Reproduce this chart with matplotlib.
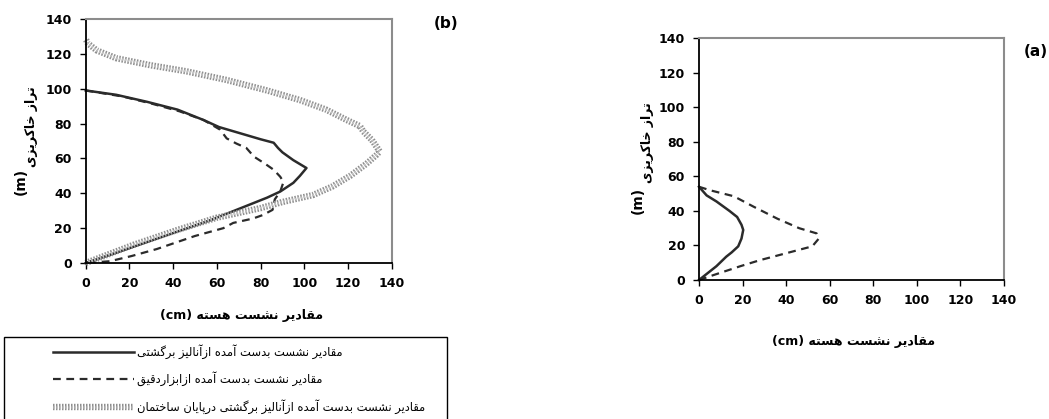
import matplotlib
matplotlib.use('Agg')
import matplotlib.pyplot as plt
import matplotlib.patheffects as pe
from matplotlib.patches import Rectangle

# داده‌ها (b)
b_solid_x = [0, 14, 28, 42, 54, 61, 70.5, 80, 86, 88, 90, 95, 101, 98, 95, 89, 83, 77, 68, 58, 43, 28, 13, 0]
b_solid_y = [99, 96.5, 92.5, 88, 82, 78, 74.5, 71, 69, 66, 63.5, 59, 54.5, 50, 46, 41, 37.5, 34.5, 30, 25, 18.5, 12, 5.5, 0]
b_dash_x = [0, 17, 30, 43, 54, 61.5, 64.5, 69, 73.5, 77, 82, 86, 89, 90.5, 89, 86.5, 85.5, 81, 76.5, 67.5, 63, 50, 32.5, 21, 11, 0]
b_dash_y = [99, 95.5, 91.5, 87, 82, 76.5, 71.5, 68.5, 66, 61, 57, 53.5, 49.5, 46.5, 41, 36.5, 30.5, 27.5, 25.5, 23, 20, 15.5, 8, 4, 1, 0]
b_grey_x = [0, 22, 42, 60, 80, 90, 104, 113, 121, 128.5, 133, 134.5, 131, 127, 125.5, 119.5, 110, 98, 83, 64.5, 46, 29.5, 14, 5, 1, 0]
b_grey_y = [0, 10.5, 19, 26, 31.5, 35, 39, 44, 50, 57, 62, 64, 70.5, 75.5, 78.5, 82, 88, 93.5, 99, 105, 110, 113.5, 117.5, 122, 126, 128.5]

# داده‌ها (a)
a_solid_x = [0, 3.5, 8, 14, 17.5, 19.5, 20.3, 19.5, 18, 15, 12.5, 8, 4, 0]
a_solid_y = [54, 49, 45.5, 40, 36.5, 32, 29, 24, 19.5, 16, 13.5, 8, 4, 0]
a_dash_x = [0, 5, 16, 25, 36, 46, 54, 55, 52, 43, 28, 19, 7, 0]
a_dash_y = [54, 52, 48.5, 42.5, 35.5, 30, 27, 24, 19.5, 16.5, 11.5, 8, 3, 0]

ticks = [0, 20, 40, 60, 80, 100, 120, 140]
x_label = 'مقادیر نشست هسته'
y_label = 'تراز خاکریزی'
legend_labels = ['مقادیر نشست بدست آمده ازآنالیز برگشتی',
                 'مقادیر نشست بدست آمده ازابزاردقیق',
                 'مقادیر نشست بدست آمده ازآنالیز برگشتی درپایان ساختمان']

# شکل‌دهی ساده حروف فارسی (matplotlib خودش انجام نمی‌دهد)
FORMS = {
    'ا': ('\uFE8D', '\uFE8E'), 'آ': ('\uFE81', '\uFE82'),
    'د': ('\uFEA9', '\uFEAA'), 'ر': ('\uFEAD', '\uFEAE'), 'ز': ('\uFEAF', '\uFEB0'),
    'ب': ('\uFE8F', '\uFE90', '\uFE91', '\uFE92'),
    'ت': ('\uFE95', '\uFE96', '\uFE97', '\uFE98'),
    'خ': ('\uFEA5', '\uFEA6', '\uFEA7', '\uFEA8'),
    'س': ('\uFEB1', '\uFEB2', '\uFEB3', '\uFEB4'),
    'ش': ('\uFEB5', '\uFEB6', '\uFEB7', '\uFEB8'),
    'ق': ('\uFED5', '\uFED6', '\uFED7', '\uFED8'),
    'ل': ('\uFEDD', '\uFEDE', '\uFEDF', '\uFEE0'),
    'م': ('\uFEE1', '\uFEE2', '\uFEE3', '\uFEE4'),
    'ن': ('\uFEE5', '\uFEE6', '\uFEE7', '\uFEE8'),
    'ه': ('\uFEE9', '\uFEEA', '\uFEEB', '\uFEEC'),
    'پ': ('\uFB56', '\uFB57', '\uFB58', '\uFB59'),
    'ک': ('\uFB8E', '\uFB8F', '\uFB90', '\uFB91'),
    'گ': ('\uFB92', '\uFB93', '\uFB94', '\uFB95'),
    'ی': ('\uFBFC', '\uFBFD', '\uFBFE', '\uFBFF'),
}


def fa(s):
    out = []
    for i, c in enumerate(s):
        f = FORMS.get(c)
        if f is None:
            out.append(c)
            continue
        p = s[i - 1] if i > 0 else ''
        n = s[i + 1] if i + 1 < len(s) else ''
        jp = p in FORMS and len(FORMS[p]) == 4
        jn = len(f) == 4 and n in FORMS
        if jp and jn:
            out.append(f[3])
        elif jp:
            out.append(f[1])
        elif jn:
            out.append(f[2])
        else:
            out.append(f[0])
    return ''.join(reversed(out))


grey_fx = [pe.Stroke(linewidth=4.6, foreground='#8e8e8e'), pe.Normal()]


def style_axes(ax):
    ax.set_xlim(0, 140)
    ax.set_ylim(0, 140)
    ax.set_xticks(ticks)
    ax.set_yticks(ticks)
    ax.tick_params(direction='out', length=4, width=1, labelsize=9, pad=6)
    for lab in ax.get_xticklabels() + ax.get_yticklabels():
        lab.set_fontweight('bold')
    for s in ['left', 'bottom']:
        ax.spines[s].set_color('black')
        ax.spines[s].set_linewidth(1.3)
    for s in ['top', 'right']:
        ax.spines[s].set_color('#8c8c8c')
        ax.spines[s].set_linewidth(1.5)
    ax.margins(0)


fig = plt.figure(figsize=(10.49, 4.19), dpi=100)
W, H = 1049, 419


def fx(px):
    return px / W


def fy(py):
    return 1 - py / H


# نمودار (b)
ax_b = fig.add_axes([fx(85.7), fy(263), fx(306), 244 / H])
l1, = ax_b.plot(b_solid_x, b_solid_y, color='#2b2b2b', lw=1.8, clip_on=False)
l2, = ax_b.plot(b_dash_x, b_dash_y, color='#2b2b2b', lw=1.6, dashes=(3.5, 2.5), clip_on=False)
l3, = ax_b.plot(b_grey_x, b_grey_y, color='#c2c2c2', lw=1.8, dashes=(0.6, 0.6),
                path_effects=grey_fx, clip_on=False)
style_axes(ax_b)

# نمودار (a)
ax_a = fig.add_axes([fx(699), fy(280), fx(305), 241.7 / H])
ax_a.plot(a_solid_x, a_solid_y, color='#2b2b2b', lw=1.8, clip_on=False)
ax_a.plot(a_dash_x, a_dash_y, color='#2b2b2b', lw=1.6, dashes=(3.5, 2.5), clip_on=False)
style_axes(ax_a)

# برچسب‌ها
fig.text(fx(446), fy(24), '(b)', fontsize=11, fontweight='bold', ha='center', va='center')
fig.text(fx(1036), fy(51), '(a)', fontsize=11, fontweight='bold', ha='center', va='center')

fig.text(fx(242), fy(315), '(cm) ' + fa(x_label), fontsize=9, fontweight='bold',
         ha='center', va='center')
fig.text(fx(854), fy(342), '(cm) ' + fa(x_label), fontsize=9, fontweight='bold',
         ha='center', va='center')

fig.text(fx(31), fy(127), fa(y_label), fontsize=9, fontweight='bold', rotation=90,
         ha='center', va='center')
fig.text(fx(21), fy(181), '(m)', fontsize=10, fontweight='bold', rotation=90,
         ha='center', va='center')
fig.text(fx(647), fy(143), fa(y_label), fontsize=9, fontweight='bold', rotation=90,
         ha='center', va='center')
fig.text(fx(638), fy(200), '(m)', fontsize=10, fontweight='bold', rotation=90,
         ha='center', va='center')

# راهنما
fig.patches.append(Rectangle((fx(4), fy(430)), fx(443), (430 - 337) / H,
                             transform=fig.transFigure, fill=False,
                             edgecolor='black', lw=1.0))
fig.legend([l1, l2, l3], [fa(t) for t in legend_labels], loc='upper left',
           bbox_to_anchor=(fx(53), fy(344)), frameon=False, borderpad=0,
           borderaxespad=0, handlelength=7.0, handletextpad=0.3,
           labelspacing=1.1, fontsize=8.3)

fig.savefig('out.png', dpi=100)
